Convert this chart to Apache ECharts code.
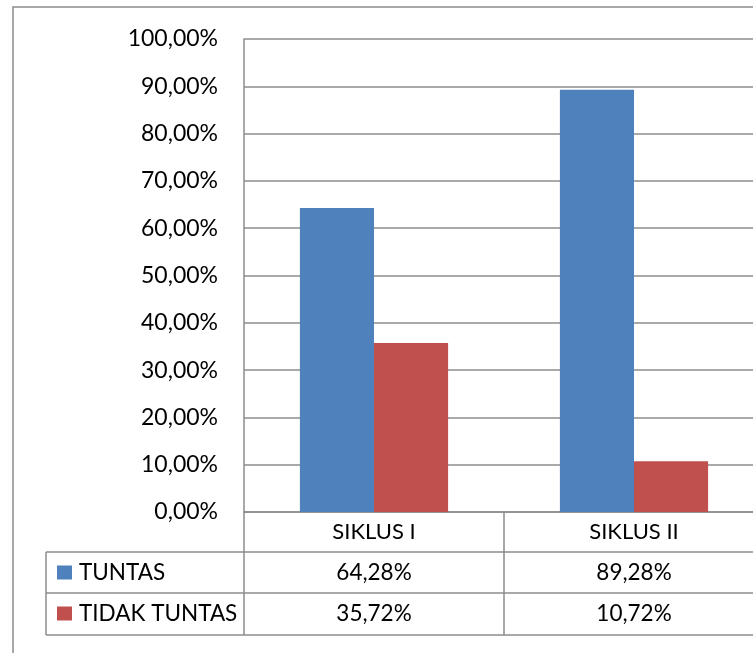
<!DOCTYPE html>
<html>
<head>
<meta charset="utf-8">
<script src="https://cdn.jsdelivr.net/npm/echarts@6/dist/echarts.min.js"></script>
<style>
  html, body { margin: 0; padding: 0; background: #fff; }
  #chart { width: 753px; height: 653px; }
</style>
</head>
<body>
<div id="chart"></div>
<script>
// data
var categories = ['SIKLUS I', 'SIKLUS II']
var seriesNames = ['TUNTAS', 'TIDAK TUNTAS']
var tuntas = [64.28, 89.28]
var tidakTuntas = [35.72, 10.72]

var colors = ['#4F81BD', '#C0504D']
var lineColor = '#8c8c8c'
var font = 'Lato'

function pct (v) {
  return v.toFixed(2).replace('.', ',') + '%'
}

var chart = echarts.init(document.getElementById('chart'), null, { renderer: 'canvas' })

chart.setOption({
  animation: false,
  textStyle: { fontFamily: font },
  grid: {
    left: 244,
    top: 39,
    width: 520,
    height: 473,
    outerBoundsMode: 'none'
  },
  xAxis: {
    type: 'category',
    data: categories,
    axisLine: { lineStyle: { color: lineColor, width: 1.5 } },
    axisTick: { show: true, length: 123, interval: 0, lineStyle: { color: lineColor, width: 1.5 } },
    axisLabel: { color: '#000', fontSize: 22, fontFamily: font, margin: 9 }
  },
  yAxis: {
    type: 'value',
    min: 0,
    max: 100,
    interval: 10,
    axisLine: { show: true, lineStyle: { color: lineColor, width: 1.5 } },
    axisTick: { show: false },
    splitLine: { lineStyle: { color: lineColor, width: 1.5 } },
    axisLabel: {
      color: '#000',
      fontSize: 23,
      fontFamily: font,
      margin: 26,
      formatter: function (v) { return pct(v) }
    }
  },
  series: [{
    name: seriesNames[0],
    type: 'bar',
    data: tuntas,
    barGap: '0%',
    barCategoryGap: '43%',
    itemStyle: { color: colors[0] }
  }, {
    name: seriesNames[1],
    type: 'bar',
    data: tidakTuntas,
    itemStyle: { color: colors[1] }
  }]
})

// data table below the plot
function buildTable () {
  var rows = [tuntas, tidakTuntas]
  var tableLeft = 46
  var rowTops = [552, 593]
  var rowH = 41
  var right = 770
  var els = []
  // outer frame of the chart area
  els.push({ type: 'rect', shape: { x: 13, y: 7, width: 800, height: 700 }, style: { fill: null, stroke: lineColor, lineWidth: 1.5 }, silent: true })
  // horizontal lines
  ;[552, 593, 635].forEach(function (y) {
    els.push({ type: 'line', shape: { x1: tableLeft, y1: y, x2: right, y2: y }, style: { stroke: lineColor, lineWidth: 1.5 } })
  })
  els.push({ type: 'line', shape: { x1: tableLeft, y1: 552, x2: tableLeft, y2: 635 }, style: { stroke: lineColor, lineWidth: 1.5 } })
  rows.forEach(function (vals, r) {
    var cy = rowTops[r] + rowH / 2
    els.push({ type: 'rect', shape: { x: 57, y: cy - 7, width: 15, height: 14 }, style: { fill: colors[r] } })
    els.push({ type: 'text', x: 79, y: cy, style: { text: seriesNames[r], fill: '#000', font: '22.5px ' + font, textVerticalAlign: 'middle', textAlign: 'left' } })
    vals.forEach(function (v, c) {
      var px = chart.convertToPixel({ xAxisIndex: 0 }, categories[c])
      els.push({ type: 'text', x: px, y: cy, style: { text: pct(v), fill: '#000', font: '22.5px ' + font, textVerticalAlign: 'middle', textAlign: 'center' } })
    })
  })
  chart.setOption({ graphic: els })
}
buildTable()
</script>
</body>
</html>
